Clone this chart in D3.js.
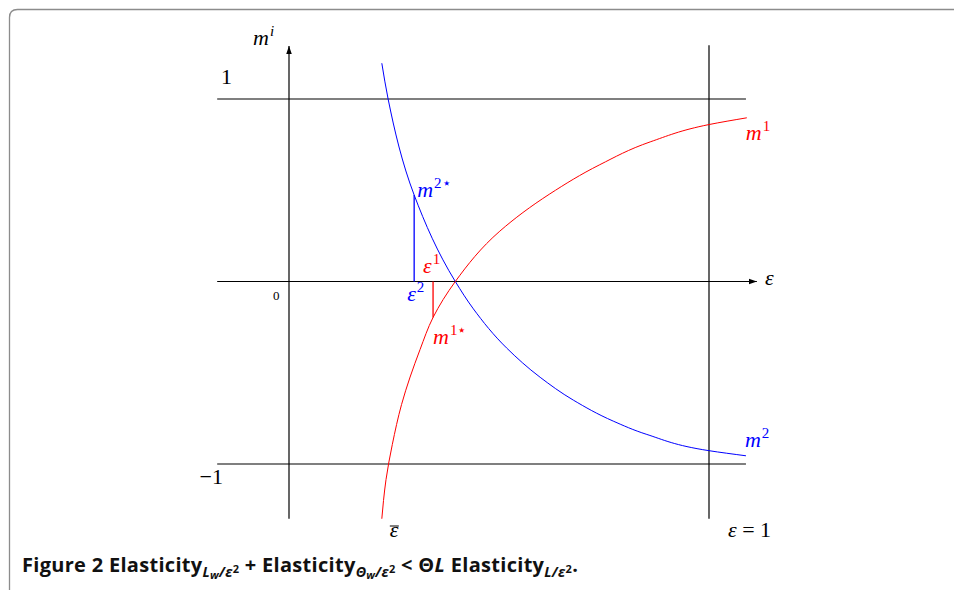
<!DOCTYPE html>
<html>
<head>
<meta charset="utf-8">
<script src="https://cdn.jsdelivr.net/npm/d3@7"></script>
<style>
  body { margin: 0; background: #fff; }
  svg { display: block; }
  .math { font-family: "Liberation Serif", "DejaVu Serif", serif; }
  .caption { font-family: "Open Sans", "Noto Sans", sans-serif; font-weight: bold; }
</style>
</head>
<body>
<div id="chart"></div>
<script>
// curve m1 (red)
const m1Eps  = [0.221, 0.225, 0.231, 0.246, 0.268, 0.312, 0.343, 0.396, 0.502, 0.621, 0.740, 0.860, 1.000, 1.090];
const m1Vals = [-1.30, -1.20, -1.085, -0.893, -0.674, -0.373, -0.197, 0.0, 0.276, 0.480, 0.640, 0.765, 0.860, 0.897];

// curve m2 (blue)
const m2Eps  = [0.221, 0.236, 0.298, 0.396, 0.439, 0.518, 0.598, 0.677, 0.772, 0.852, 1.000, 1.088];
const m2Vals = [1.196, 1.0, 0.474, 0.0, -0.150, -0.364, -0.525, -0.650, -0.765, -0.838, -0.927, -0.955];

// the two marked points eps^1 / eps^2
const starEps  = [0.298, 0.343];
const starVals = [0.474, -0.197];
const starColors = ["#0000ff", "#ff0000"];

const hLevels = [1, -1];
const yTickLabels = ["1", "0", "\u22121"];
const epsBar = 0.221;

const width = 954, height = 590;

const x = d3.scaleLinear().domain([0, 1]).range([289, 709]);
const y = d3.scaleLinear().domain([-1, 1]).range([464, 99]);

const svg = d3.select('#chart')
    .append('svg')
    .attr('width', width)
    .attr('height', height);

// frame of the figure box
svg.append('path')
    .attr('d', 'M954,9.5 H17.5 Q9.5,9.5 9.5,17.5 V590')
    .attr('fill', 'none')
    .attr('stroke', '#8c8c8c')
    .attr('stroke-width', 1.3);

svg.append('defs').append('marker')
    .attr('id', 'arrow')
    .attr('viewBox', '0 0 10 10')
    .attr('refX', 10).attr('refY', 5)
    .attr('markerWidth', 8).attr('markerHeight', 8)
    .attr('markerUnits', 'userSpaceOnUse')
    .attr('orient', 'auto')
    .append('path')
    .attr('d', 'M0,1.5 L10,5 L0,8.5 Z')
    .attr('fill', '#000');

const g = svg.append('g');

// horizontal lines at +1 / -1
g.selectAll('.level')
    .data(hLevels)
    .enter().append('line')
    .attr('x1', x(-0.171)).attr('x2', x(1.088))
    .attr('y1', d => y(d)).attr('y2', d => y(d))
    .attr('stroke', '#000').attr('stroke-width', 1.2);

// eps = 1 vertical
g.append('line')
    .attr('x1', x(1)).attr('x2', x(1))
    .attr('y1', y(-1.30)).attr('y2', y(1.295))
    .attr('stroke', '#000').attr('stroke-width', 1.2);

// axes with arrows
g.append('line')
    .attr('x1', x(-0.171)).attr('x2', x(1.114))
    .attr('y1', y(0)).attr('y2', y(0))
    .attr('stroke', '#000').attr('stroke-width', 1.2)
    .attr('marker-end', 'url(#arrow)');

g.append('line')
    .attr('x1', x(0)).attr('x2', x(0))
    .attr('y1', y(-1.30)).attr('y2', y(1.29))
    .attr('stroke', '#000').attr('stroke-width', 1.2)
    .attr('marker-end', 'url(#arrow)');

// curves (monotone in m, so steep ends stay smooth)
const line = d3.line()
    .x(d => x(d[0]))
    .y(d => y(d[1]))
    .curve(d3.curveMonotoneY);

g.append('path')
    .datum(m2Eps.map((e, i) => [e, m2Vals[i]]))
    .attr('d', line)
    .attr('fill', 'none').attr('stroke', '#0000ff').attr('stroke-width', 1);

g.append('path')
    .datum(m1Eps.map((e, i) => [e, m1Vals[i]]).reverse())
    .attr('d', line)
    .attr('fill', 'none').attr('stroke', '#ff0000').attr('stroke-width', 1);

// drop lines to the axis
g.selectAll('.drop')
    .data(starEps)
    .enter().append('line')
    .attr('x1', d => x(d)).attr('x2', d => x(d))
    .attr('y1', y(0)).attr('y2', (d, i) => y(starVals[i]))
    .attr('stroke', (d, i) => starColors[i]).attr('stroke-width', 1.3);

// labels
function mathLabel(px, py, parts, color, size) {
    const t = svg.append('text')
        .attr('class', 'math')
        .attr('x', px).attr('y', py)
        .attr('fill', color)
        .attr('font-size', size || 22);
    parts.forEach(p => {
        const s = t.append('tspan').text(p.t);
        if (p.it) s.attr('font-style', 'italic');
        if (p.sup) s.attr('font-size', 15).attr('dy', p.dy);
        if (p.dx) s.attr('dx', p.dx);
    });
    return t;
}

mathLabel(x(0) - 36, y(1.29) - 1, [{t: 'm', it: true}, {t: 'i', it: true, sup: true, dy: -9, dx: 1}], '#000');
mathLabel(x(-0.162), y(1) - 15, [{t: yTickLabels[0]}], '#000');
mathLabel(x(-0.038), y(0) + 18, [{t: yTickLabels[1]}], '#000', 13);
mathLabel(x(-0.213), y(-1) + 20, [{t: yTickLabels[2]}], '#000');

mathLabel(x(starEps[0]) + 3, y(starVals[0]) + 2, [{t: 'm', it: true}, {t: '2\u22c6', sup: true, dy: -9, dx: 1}], '#0000ff');
mathLabel(x(starEps[0]) - 7, y(0) + 19, [{t: '\u03b5', it: true}, {t: '2', sup: true, dy: -9, dx: 1}], '#0000ff');
mathLabel(x(starEps[1]) - 10, y(0) - 9, [{t: '\u03b5', it: true}, {t: '1', sup: true, dy: -9, dx: 1}], '#ff0000');
mathLabel(x(starEps[1]), y(starVals[1]) + 27, [{t: 'm', it: true}, {t: '1\u22c6', sup: true, dy: -9, dx: 1}], '#ff0000');

mathLabel(x(1.09) - 1, y(m1Vals[m1Vals.length - 1]) + 22, [{t: 'm', it: true}, {t: '1', sup: true, dy: -9, dx: 1}], '#ff0000');
mathLabel(x(1.088) - 1, y(m2Vals[m2Vals.length - 1]) - 9, [{t: 'm', it: true}, {t: '2', sup: true, dy: -9, dx: 1}], '#0000ff');

mathLabel(x(1.114) + 8, y(0) + 3, [{t: '\u03b5', it: true}], '#000');

// eps-bar under the axis
const eb = mathLabel(x(epsBar) + 8, 537, [{t: '\u03b5', it: true}], '#000');
const ebBox = eb.node().getBBox();
svg.append('line')
    .attr('x1', ebBox.x).attr('x2', ebBox.x + ebBox.width)
    .attr('y1', 526).attr('y2', 526)
    .attr('stroke', '#000').attr('stroke-width', 1);

mathLabel(x(1) + 19, 537, [{t: '\u03b5', it: true}, {t: ' = 1'}], '#000');

// caption
const cap = svg.append('text')
    .attr('class', 'caption')
    .attr('x', 22).attr('y', 572)
    .attr('font-size', 20)
    .attr('letter-spacing', 0.3)
    .attr('fill', '#111');
function sub(txt, italic) {
    const s = cap.append('tspan').text(txt).attr('font-size', 14).attr('dy', 0);
    if (italic) s.attr('font-style', 'italic');
    return s;
}
cap.append('tspan').text('Figure 2 Elasticity');
sub('L', true).attr('dy', 5);
sub('w', true).attr('font-size', 11).attr('dy', 2);
sub('/\u03b5', true).attr('dy', -2);
sub('2').attr('font-size', 11).attr('dy', -4);
cap.append('tspan').text(' + Elasticity').attr('dy', -1);
sub('\u0398', true).attr('dy', 5);
sub('w', true).attr('font-size', 11).attr('dy', 2);
sub('/\u03b5', true).attr('dy', -2);
sub('2').attr('font-size', 11).attr('dy', -4);
cap.append('tspan').text('  < \u0398').attr('dy', -1);
cap.append('tspan').text('L').attr('font-style', 'italic');
cap.append('tspan').text(' Elasticity');
sub('L/\u03b5', true).attr('dy', 5);
sub('2').attr('font-size', 11).attr('dy', -4);
cap.append('tspan').text('.').attr('dy', -1);
</script>
</body>
</html>
